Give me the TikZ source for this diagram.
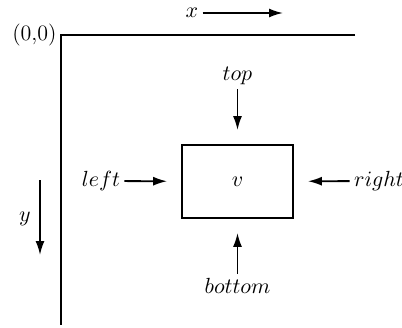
\documentclass[tikz,border=0pt]{standalone}
\usetikzlibrary{arrows.meta}

\begin{document}
\begin{tikzpicture}[x=0.5pt,y=-0.5pt,font=\fontsize{11}{13}\selectfont,
  axis/.style={line width=0.9pt,black},
  vbox/.style={draw,line width=0.9pt,minimum width=55.5pt,minimum height=36.5pt,inner sep=0pt},
  lbl/.style={inner sep=2pt},
  arr/.style={-{Latex[length=7pt,width=4.5pt]},line width=0.9pt},
  toarr/.style={arr,shorten >=7pt}]
  \useasboundingbox (0,0) rectangle (402,327);

  % ===== axes =====
  \coordinate (org) at (61,35);
  \coordinate (xend) at (355,35);
  \coordinate (yend) at (61,325);
  \draw[axis] (xend) -- (org) -- (yend);
  \node[lbl,anchor=east] (orglbl) at (org) {(0,0)};

  \node[lbl] (xlbl) at (192,13) {$x$};
  \coordinate (xtip) at (283,13);
  \draw[arr] (xlbl.east) -- (xtip);

  \node[lbl] (ylbl) at (25,219) {$y$};
  \coordinate (ytail) at (40,180);
  \coordinate (ytip) at (40,255);
  \draw[arr] (ytail) -- (ytip);

  % ===== vertex box =====
  \node[vbox] (v) at (237.5,181.5) {$v$};

  % ===== sides =====
  \node[lbl] (top) at (237.5,76) {$top$};
  \node[lbl] (bottom) at (237.5,286) {$bottom$};
  \node[lbl] (left) at (101,181) {$left$};
  \node[lbl] (right) at (379,181) {$right$};

  \draw[toarr] (top) -- (v);
  \draw[toarr] (bottom) -- (v);
  \draw[toarr] (left) -- (v);
  \draw[toarr] (right) -- (v);
\end{tikzpicture}
\end{document}
